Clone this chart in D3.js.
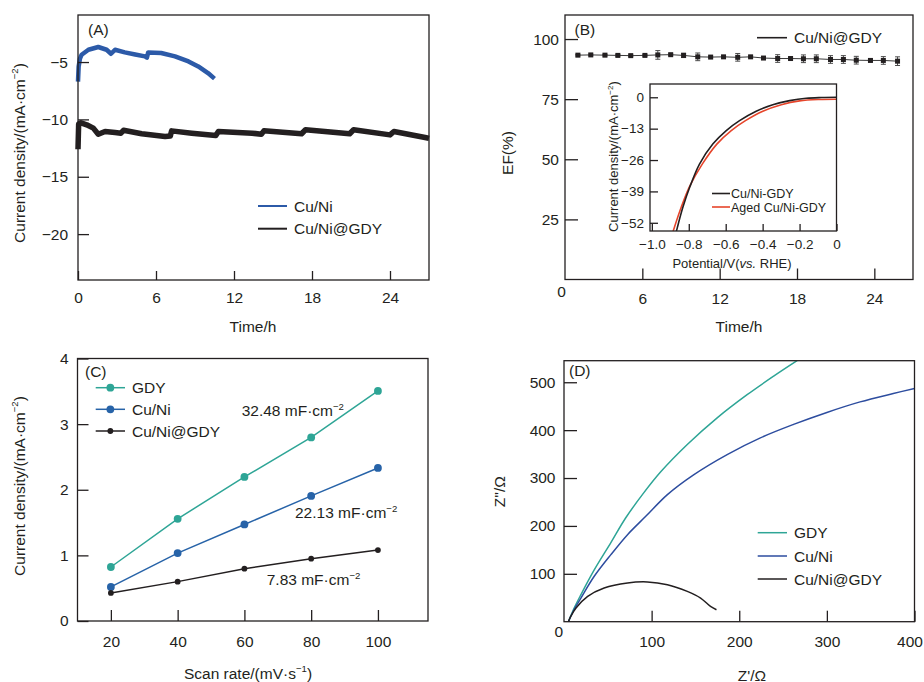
<!DOCTYPE html>
<html>
<head>
<meta charset="utf-8">
<script src="https://cdn.jsdelivr.net/npm/d3@7"></script>
<style>
  body { margin: 0; background: #fff; }
  svg text { font-family: "Liberation Sans", Arial, Helvetica, sans-serif; fill: #231f20; }
</style>
</head>
<body>
<div id="chart"></div>
<script>
//////////////////////////////////
// DATA

// (A) chronoamperometry, time in h, current density in mA/cm2
const aTimeCuNi = [0, 0.05, 0.15, 0.28, 0.8, 1.56, 2.2, 2.54, 2.85, 3.6, 4.4, 5.15, 5.3, 5.4, 6.4, 7.46, 8.5, 9.25, 10.0, 10.5];
const aJCuNi    = [-6.7, -5.4, -4.7, -4.36, -3.93, -3.69, -3.93, -4.28, -3.93, -4.16, -4.34, -4.51, -4.62, -4.16, -4.21, -4.51, -4.95, -5.38, -5.96, -6.45];
const aTimeGdy  = [0, 0.05, 0.23, 0.67, 1.18, 1.56, 2.08, 2.85, 3.3, 3.5, 4.9, 6.7, 7.1, 7.2, 8.75, 10.6, 10.8, 13.4, 14.1, 14.3, 17.2, 17.5, 20.9, 21.2, 24.0, 24.3, 26.8, 27.0];
const aJGdy     = [-12.6, -10.4, -10.3, -10.47, -10.76, -11.29, -11.05, -11.15, -11.2, -10.95, -11.25, -11.5, -11.45, -11.0, -11.2, -11.4, -11.05, -11.2, -11.3, -11.0, -11.25, -10.9, -11.25, -10.9, -11.35, -11.05, -11.6, -11.65];

// (B) faradaic efficiency
const bTime = [1.0, 2.0, 3.1, 4.1, 5.1, 6.2, 7.2, 8.2, 9.2, 10.3, 11.3, 12.3, 13.4, 14.4, 15.4, 16.5, 17.5, 18.5, 19.5, 20.6, 21.6, 22.6, 23.7, 24.7, 25.8];
const bEF   = [93.3, 93.4, 93.3, 93.2, 93.1, 93.2, 93.4, 93.5, 93.2, 92.6, 92.5, 92.6, 92.4, 92.6, 92.1, 91.9, 91.9, 91.8, 91.8, 91.5, 91.5, 91.2, 91.1, 91.1, 90.8];
const bErr  = [0.3, 0.3, 0.3, 0.3, 0.3, 0.3, 1.8, 0.3, 0.9, 1.6, 0.3, 0.3, 1.6, 0.3, 0.3, 1.6, 0.3, 1.6, 1.6, 1.6, 1.6, 1.6, 0.3, 1.6, 1.8];

// (B) inset LSV, potential vs RHE / current density
const insetECuNi = [-0.875, -0.862, -0.832, -0.796, -0.742, -0.670, -0.597, -0.525, -0.435, -0.345, -0.254, -0.164, -0.08, 0];
const insetJCuNi = [-58, -54.0, -45.6, -37.5, -27.7, -19.4, -13.8, -9.7, -5.8, -3.1, -1.4, -0.4, -0.1, 0];
const insetEAged = [-0.9, -0.887, -0.841, -0.796, -0.727, -0.648, -0.570, -0.493, -0.399, -0.299, -0.200, -0.092, 0];
const insetJAged = [-59, -56, -45.6, -37.0, -27.7, -19.4, -13.8, -9.7, -5.8, -3.1, -1.5, -0.9, -0.8];

// (C) double layer capacitance
const cScanRate = [20, 40, 60, 80, 100];
const cGdy      = [0.823, 1.557, 2.195, 2.797, 3.506];
const cCuNi     = [0.519, 1.035, 1.471, 1.906, 2.332];
const cCuNiGdy  = [0.428, 0.600, 0.797, 0.949, 1.081];
const cSlopes   = ['32.48', '22.13', '7.83'];

// (D) Nyquist plots
const dZreGdy     = [5, 12, 19.3, 34.5, 53.5, 70.5, 91.4, 110.4, 140.7, 174.8, 209, 239.3, 266];
const dZimGdy     = [0, 30, 56.4, 108, 165, 217, 270, 313, 370, 425.7, 474, 512.7, 545];
const dZreCuNi    = [5, 12, 19.3, 34.5, 53.5, 72.5, 93.3, 118, 148.3, 186.2, 224.1, 262, 300, 337.9, 375.8, 400];
const dZimCuNi    = [0, 27, 49.4, 94.8, 140, 181.8, 220, 265.4, 307.2, 349, 383.9, 412, 437, 459, 476.5, 487];
const dZreCuNiGdy = [5, 8, 13.7, 27, 45.8, 72.5, 95.2, 118, 140.7, 155.9, 167.2, 174];
const dZimCuNiGdy = [0, 12, 28.6, 52.9, 70.4, 80.9, 83, 77.3, 63.3, 49.4, 32, 25];

//////////////////////////////////
// SETUP
const ink = '#231f20',
      blueA = '#2c5aa8',
      teal = '#2ea596',
      blueC = '#2763a8',
      blueD = '#2d4d9f',
      red = '#e6452b',
      fs = 15.5;

const $svg = d3.select('#chart').append('svg')
  .attr('width', 924)
  .attr('height', 682);

const zip = (xs, ys) => xs.map((x, i) => [x, ys[i]]);

function frame(box) {
  $svg.append('rect')
    .attr('x', box.l).attr('y', box.t)
    .attr('width', box.r - box.l).attr('height', box.b - box.t)
    .attr('fill', 'none').attr('stroke', ink).attr('stroke-width', 1.3);
}

function styleAxis(g, size) {
  g.attr('font-size', size).attr('font-family', null);
  g.select('.domain').remove();
  g.selectAll('.tick line').attr('stroke', ink).attr('stroke-width', 1.3);
  g.selectAll('.tick text').attr('fill', ink);
  return g;
}

function yAxis(scale, x, ticks, len, pad, fmt, size) {
  const g = $svg.append('g').attr('transform', `translate(${x},0)`)
    .call(d3.axisLeft(scale).tickValues(ticks).tickSize(-len).tickPadding(pad).tickFormat(fmt || d3.format('d')));
  return styleAxis(g, size || fs);
}

function xAxis(scale, y, ticks, len, pad, fmt, size) {
  const g = $svg.append('g').attr('transform', `translate(0,${y})`)
    .call(d3.axisBottom(scale).tickValues(ticks).tickSize(-len).tickPadding(pad).tickFormat(fmt || d3.format('d')));
  return styleAxis(g, size || fs);
}

// text made of parts: plain strings, {sup: '...'} or {it: '...'}
function label(x, y, parts, opt = {}) {
  const size = opt.size || fs;
  const $t = $svg.append('text')
    .attr('font-size', size)
    .attr('text-anchor', opt.anchor || 'start')
    .attr('transform', opt.rotate ? `translate(${x},${y}) rotate(-90)` : `translate(${x},${y})`);
  let shifted = false;
  parts.forEach(p => {
    const $s = $t.append('tspan');
    if (typeof p === 'string') {
      $s.text(p);
      if (shifted) { $s.attr('dy', size * 0.4); shifted = false; }
    } else if (p.sup) {
      $s.text(p.sup).attr('font-size', size * 0.62).attr('dy', -size * 0.4);
      shifted = true;
    } else if (p.it) {
      $s.text(p.it).attr('font-style', 'italic');
    }
  });
  return $t;
}

function lineLegend(x1, x2, y, color, text, opt = {}) {
  $svg.append('line')
    .attr('x1', x1).attr('x2', x2).attr('y1', y).attr('y2', y)
    .attr('stroke', color).attr('stroke-width', opt.width || 1.6);
  if (opt.r) {
    $svg.append('circle').attr('cx', (x1 + x2) / 2).attr('cy', y).attr('r', opt.r).attr('fill', color);
  }
  const size = opt.size || fs;
  label(x2 + (opt.gap || 7), y + size * 0.36, [text], {size: size});
}

const densityTitle = ['Current density/(mA·cm', {sup: '−2'}, ')'];

//////////////////////////////////
// (A)
(() => {
  const box = {l: 78, r: 429, t: 15, b: 280};
  const x = d3.scaleLinear([0, 27], [box.l, box.r]);
  const y = d3.scaleLinear([-24, -0.9], [box.b, box.t]);
  const line = d3.line().x(d => x(d[0])).y(d => y(d[1]));

  $svg.append('path').datum(zip(aTimeGdy, aJGdy))
    .attr('d', line).attr('fill', 'none').attr('stroke', ink)
    .attr('stroke-width', 5.5).attr('stroke-linejoin', 'round');
  $svg.append('path').datum(zip(aTimeCuNi, aJCuNi))
    .attr('d', line).attr('fill', 'none').attr('stroke', blueA)
    .attr('stroke-width', 4.5).attr('stroke-linejoin', 'round');

  yAxis(y, box.l, [-5, -10, -15, -20], 11, 10);
  xAxis(x, box.b, [0, 6, 12, 18, 24], 9, 12);
  frame(box);

  label(88, 34.5, ['(A)']);
  lineLegend(258, 287, 206, blueA, 'Cu/Ni', {width: 2});
  lineLegend(258, 287, 228.7, ink, 'Cu/Ni@GDY', {width: 2});
  label(253, 332, ['Time/h'], {anchor: 'middle'});
  label(24.6, 153, densityTitle, {anchor: 'middle', rotate: true});
})();

//////////////////////////////////
// (B)
(() => {
  const box = {l: 565, r: 913, t: 15, b: 279.5};
  const x = d3.scaleLinear([0, 27], [box.l, box.r]);
  const y = d3.scaleLinear([0, 110], [box.b, box.t]);
  const pts = bTime.map((t, i) => ({t: t, v: bEF[i], e: bErr[i]}));

  $svg.append('path').datum(pts)
    .attr('d', d3.line().x(d => x(d.t)).y(d => y(d.v)))
    .attr('fill', 'none').attr('stroke', '#3a3a3a').attr('stroke-width', 1);

  const $err = $svg.append('g').attr('stroke', '#4a4a4a').attr('stroke-width', 1);
  pts.forEach(d => {
    $err.append('line').attr('x1', x(d.t)).attr('x2', x(d.t)).attr('y1', y(d.v - d.e)).attr('y2', y(d.v + d.e));
    $err.append('line').attr('x1', x(d.t) - 2.5).attr('x2', x(d.t) + 2.5).attr('y1', y(d.v - d.e)).attr('y2', y(d.v - d.e));
    $err.append('line').attr('x1', x(d.t) - 2.5).attr('x2', x(d.t) + 2.5).attr('y1', y(d.v + d.e)).attr('y2', y(d.v + d.e));
  });
  $svg.append('g').selectAll('rect').data(pts).enter().append('rect')
    .attr('x', d => x(d.t) - 2.5).attr('y', d => y(d.v) - 2.5)
    .attr('width', 5).attr('height', 5).attr('fill', ink);

  yAxis(y, box.l, [25, 50, 75, 100], 13, 6);
  xAxis(x, box.b, [6, 12, 18, 24], 11, 13);
  frame(box);

  label(561.5, 297, ['0'], {anchor: 'middle'});
  label(574.5, 34.5, ['(B)']);
  lineLegend(757, 787, 37.7, ink, 'Cu/Ni@GDY', {width: 1.6});
  label(739, 332, ['Time/h'], {anchor: 'middle'});
  label(512.6, 153, ['EF(%)'], {anchor: 'middle', rotate: true});

  // inset
  const ib = {l: 650, r: 836.5, t: 84, b: 231};
  const ix = d3.scaleLinear([-1.01, 0], [ib.l, ib.r]);
  const iy = d3.scaleLinear([-55.4, 5.5], [ib.b, ib.t]);
  const iline = d3.line().curve(d3.curveCatmullRom.alpha(0.5)).x(d => ix(d[0])).y(d => iy(d[1]));

  $svg.append('rect').attr('x', ib.l).attr('y', ib.t)
    .attr('width', ib.r - ib.l).attr('height', ib.b - ib.t).attr('fill', '#fff');
  $svg.append('clipPath').attr('id', 'insetClip').append('rect')
    .attr('x', ib.l).attr('y', ib.t).attr('width', ib.r - ib.l).attr('height', ib.b - ib.t);

  const $ic = $svg.append('g').attr('clip-path', 'url(#insetClip)');
  $ic.append('path').datum(zip(insetEAged, insetJAged))
    .attr('d', iline).attr('fill', 'none').attr('stroke', red).attr('stroke-width', 1.6);
  $ic.append('path').datum(zip(insetECuNi, insetJCuNi))
    .attr('d', iline).attr('fill', 'none').attr('stroke', ink).attr('stroke-width', 1.6);

  const isz = 13.5;
  yAxis(iy, ib.l, [0, -13, -26, -39, -52], 8, 6, null, isz);
  xAxis(ix, ib.b, [-1.0, -0.8, -0.6, -0.4, -0.2, 0], 7, 8, d => d === 0 ? '0' : d3.format('.1f')(d), isz);
  frame(ib);

  lineLegend(712, 730, 193.5, ink, 'Cu/Ni-GDY', {size: 12.5, gap: 1, width: 1.6});
  lineLegend(712, 730, 207, red, 'Aged Cu/Ni-GDY', {size: 12.5, gap: 1, width: 1.6});
  label(732, 267.5, ['Potential/V(', {it: 'vs.'}, ' RHE)'], {anchor: 'middle', size: 13});
  label(617.8, 156.5, densityTitle, {anchor: 'middle', rotate: true, size: 13});
})();

//////////////////////////////////
// (C)
(() => {
  const box = {l: 77.5, r: 428, t: 358.5, b: 621};
  const x = d3.scaleLinear([10, 115], [box.l, box.r]);
  const y = d3.scaleLinear([0, 4], [box.b, box.t]);
  const line = d3.line().x(d => x(d[0])).y(d => y(d[1]));

  const series = [
    {vals: cGdy, color: teal, r: 3.9},
    {vals: cCuNi, color: blueC, r: 3.9},
    {vals: cCuNiGdy, color: ink, r: 2.9},
  ];
  series.forEach(s => {
    const data = zip(cScanRate, s.vals);
    $svg.append('path').datum(data).attr('d', line)
      .attr('fill', 'none').attr('stroke', s.color).attr('stroke-width', 1.5);
    $svg.append('g').selectAll('circle').data(data).enter().append('circle')
      .attr('cx', d => x(d[0])).attr('cy', d => y(d[1])).attr('r', s.r).attr('fill', s.color);
  });

  yAxis(y, box.l, [0, 1, 2, 3, 4], 11, 9);
  xAxis(x, box.b, cScanRate, 11, 15);
  frame(box);

  label(85, 376.5, ['(C)']);
  lineLegend(95.7, 125, 387.7, teal, 'GDY', {r: 3.9, width: 1.5});
  lineLegend(95.7, 125, 409.3, blueC, 'Cu/Ni', {r: 3.9, width: 1.5});
  lineLegend(95.7, 125, 431, ink, 'Cu/Ni@GDY', {r: 2.9, width: 1.5});

  label(241.7, 416.2, [cSlopes[0] + ' mF·cm', {sup: '−2'}]);
  label(295, 517.8, [cSlopes[1] + ' mF·cm', {sup: '−2'}]);
  label(266.7, 584.8, [cSlopes[2] + ' mF·cm', {sup: '−2'}]);

  label(248, 678.5, ['Scan rate/(mV·s', {sup: '−1'}, ')'], {anchor: 'middle'});
  label(24.6, 486, densityTitle, {anchor: 'middle', rotate: true});
})();

//////////////////////////////////
// (D)
(() => {
  const box = {l: 564, r: 914.5, t: 360.7, b: 621.7};
  const x = d3.scaleLinear([0, 400], [box.l, box.r]);
  const y = d3.scaleLinear([0, 545], [box.b, box.t]);
  const line = d3.line().curve(d3.curveCatmullRom.alpha(0.5)).x(d => x(d[0])).y(d => y(d[1]));

  $svg.append('clipPath').attr('id', 'dClip').append('rect')
    .attr('x', box.l).attr('y', box.t).attr('width', box.r - box.l).attr('height', box.b - box.t);
  const $g = $svg.append('g').attr('clip-path', 'url(#dClip)');

  [
    {xs: dZreGdy, ys: dZimGdy, color: teal},
    {xs: dZreCuNi, ys: dZimCuNi, color: blueD},
    {xs: dZreCuNiGdy, ys: dZimCuNiGdy, color: ink},
  ].forEach(s => {
    $g.append('path').datum(zip(s.xs, s.ys)).attr('d', line)
      .attr('fill', 'none').attr('stroke', s.color).attr('stroke-width', 1.5);
  });

  yAxis(y, box.l, [100, 200, 300, 400, 500], 13, 8.5);
  const $xa = xAxis(x, box.b, [100, 200, 300, 400], 11, 14);
  // keep the corner label inside the page
  $xa.selectAll('.tick text').filter(d => d === 400).attr('dx', -5);
  frame(box);

  label(558.7, 637.2, ['0'], {anchor: 'middle'});
  label(569, 375.5, ['(D)']);
  lineLegend(757.7, 787, 532.7, teal, 'GDY', {width: 1.5});
  lineLegend(757.7, 787, 556, blueD, 'Cu/Ni', {width: 1.5});
  lineLegend(757.7, 787, 579, ink, 'Cu/Ni@GDY', {width: 1.5});

  label(752, 680.5, ["Z'/Ω"], {anchor: 'middle'});
  label(504.6, 491.7, ["Z''/Ω"], {anchor: 'middle', rotate: true});
})();
</script>
</body>
</html>
